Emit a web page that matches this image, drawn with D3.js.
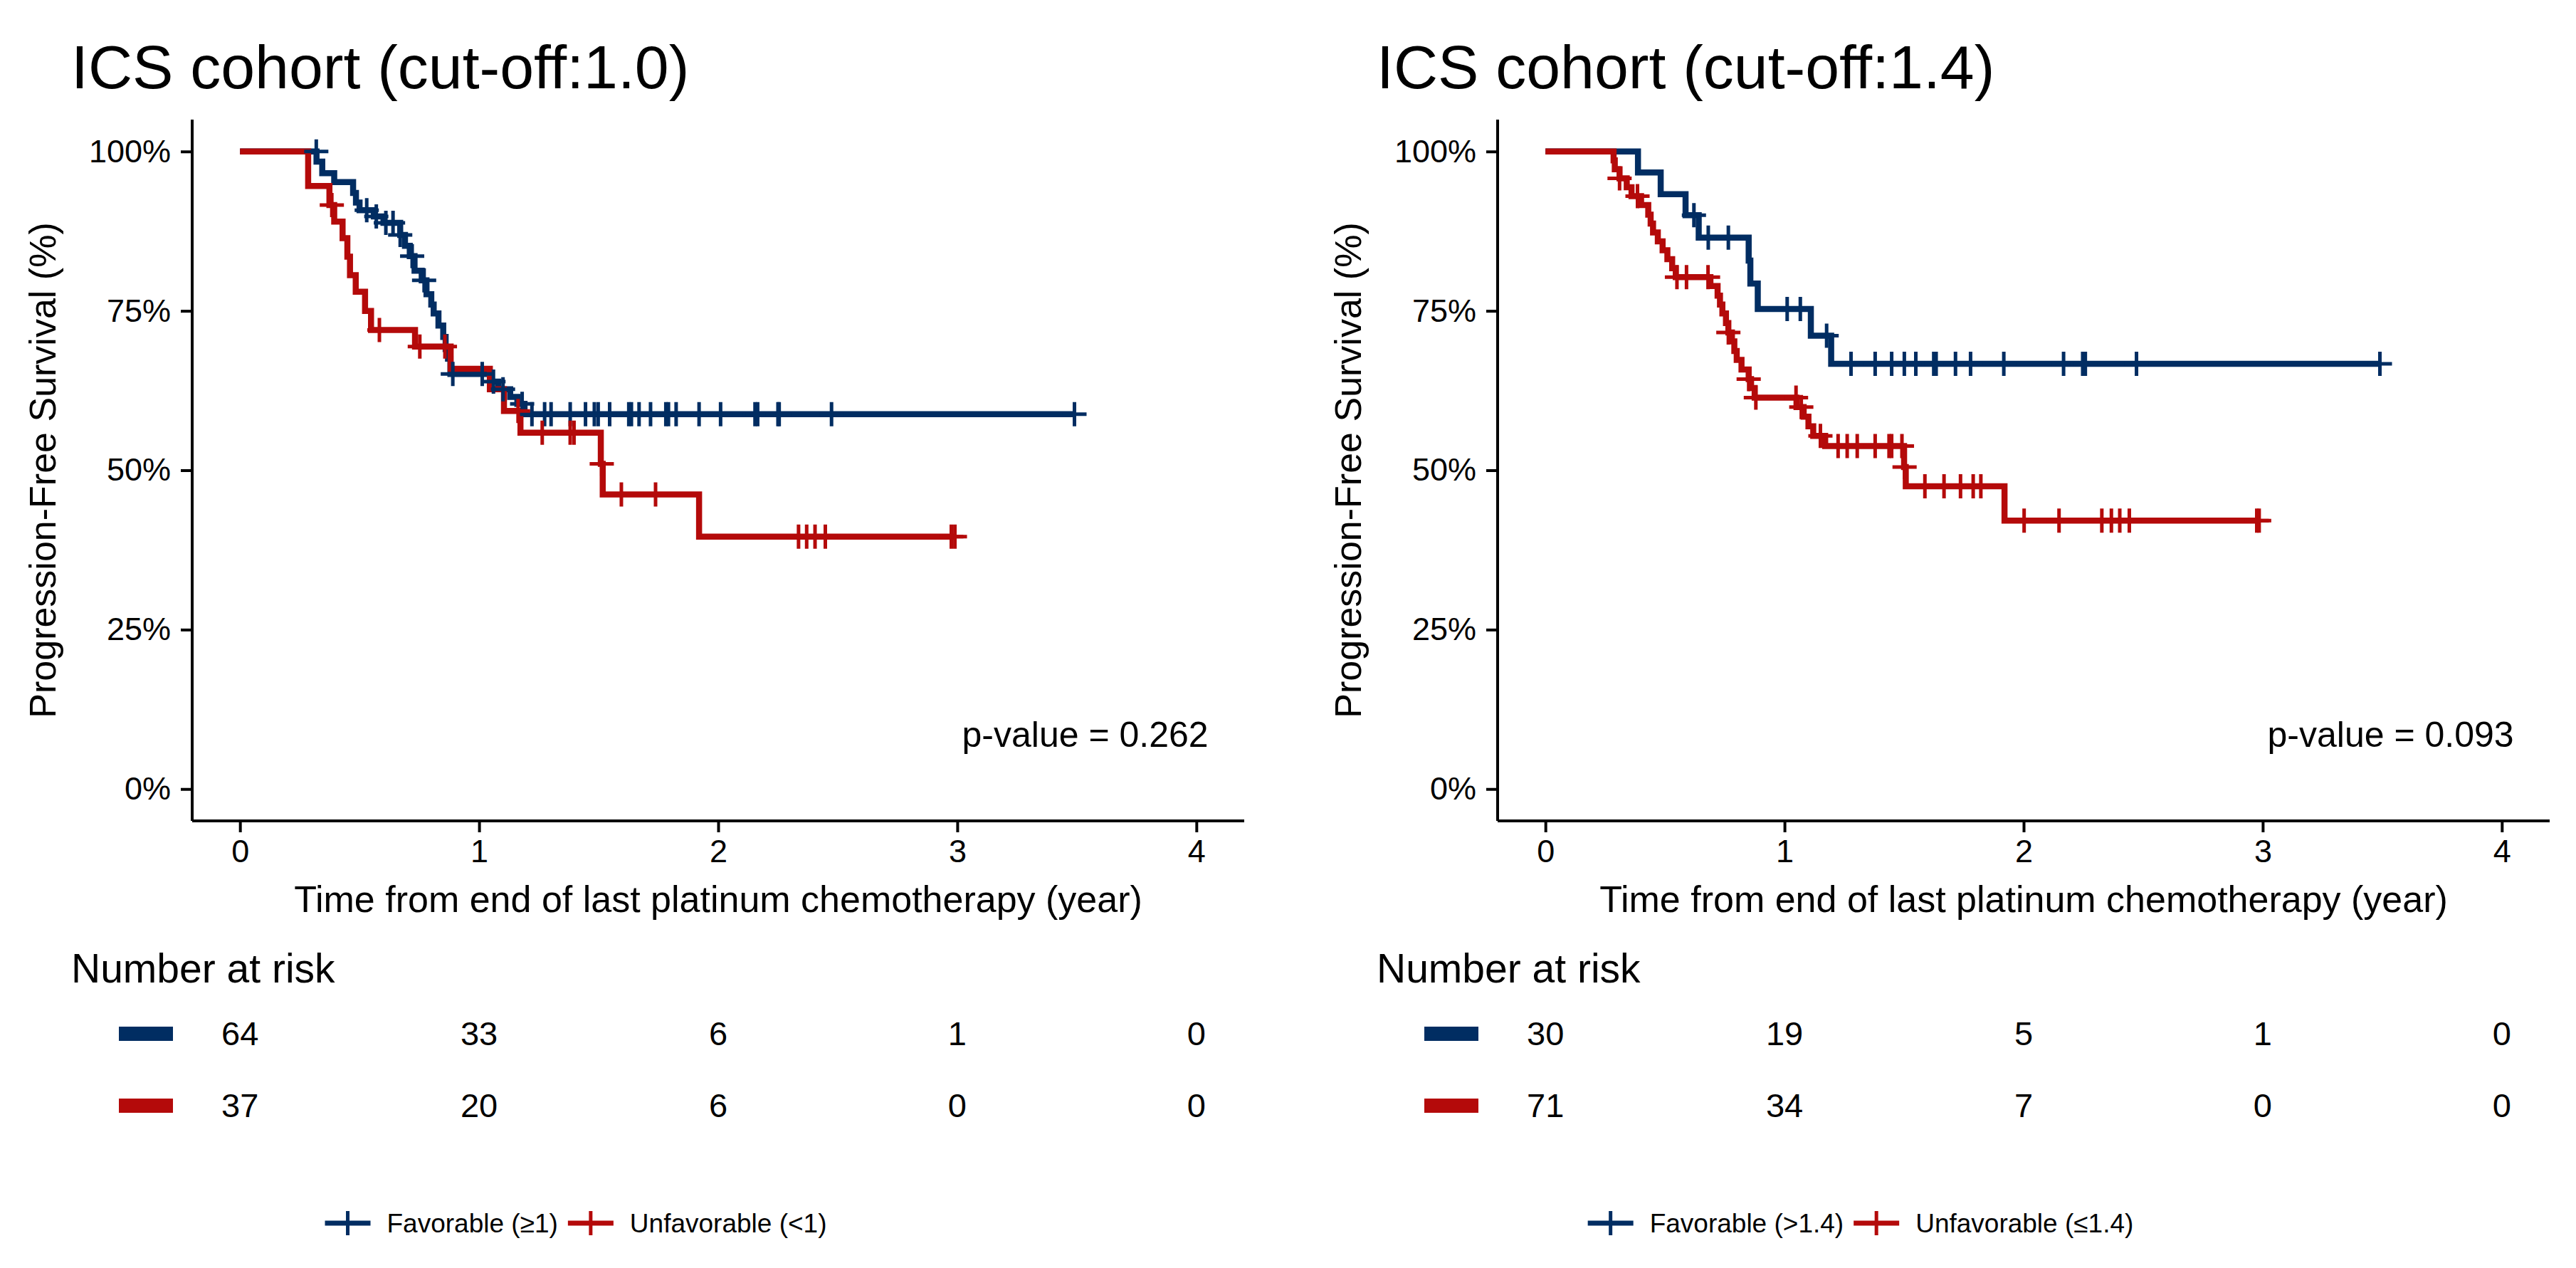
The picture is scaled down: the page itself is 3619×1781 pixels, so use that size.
<!DOCTYPE html>
<html><head><meta charset="utf-8">
<script src="https://cdn.jsdelivr.net/npm/d3@7/dist/d3.min.js"></script>
<style>
body{margin:0;background:#fff}
svg{display:block}
text{font-family:"Liberation Sans",Arial,sans-serif;fill:#000}
</style>
</head><body>
<svg id="chart" width="3619" height="1781"></svg>
<script>
// ---------------- data ----------------
const timeTicks = [0, 1, 2, 3, 4];
const survTicks = [0, 25, 50, 75, 100];
const survTickLabels = ["0%", "25%", "50%", "75%", "100%"];
const panelTitles = ["ICS cohort (cut-off:1.0)", "ICS cohort (cut-off:1.4)"];
const pValueLabels = ["p-value = 0.262", "p-value = 0.093"];
const favLabels = ["Favorable (\u22651)", "Favorable (>1.4)"];
const unfavLabels = ["Unfavorable (<1)", "Unfavorable (\u22641.4)"];
const xTitle = "Time from end of last platinum chemotherapy (year)";
const yTitle = "Progression-Free Survival (%)";
const riskTitle = "Number at risk";

// [time (year), survival %] step points
const leftFavSteps = [[0,100],[0.32,98.4],[0.344,96.6],[0.394,95.2],[0.473,93.5],[0.485,92.0],[0.50,90.8],[0.56,89.8],[0.60,88.8],[0.67,86.9],[0.69,85.2],[0.71,83.6],[0.73,81.3],[0.76,79.8],[0.78,77.6],[0.80,76.0],[0.81,74.6],[0.83,72.7],[0.85,70.9],[0.86,69.0],[0.87,67.5],[0.88,65.1],[1.05,63.9],[1.08,62.7],[1.13,61.5],[1.16,60.4],[1.19,58.8]];
const leftFavCensor = [0.319,0.53,0.57,0.61,0.64,0.67,0.72,0.77,0.89,1.013,1.06,1.10,1.18,1.221,1.274,1.301,1.381,1.445,1.482,1.498,1.546,1.626,1.637,1.669,1.717,1.781,1.792,1.824,1.920,2.010,2.154,2.165,2.250,2.255,2.474,3.49];
const leftFavEnd = 3.49;

const leftUnfavSteps = [[0,100],[0.285,94.6],[0.374,91.6],[0.394,89.0],[0.429,86.4],[0.449,83.5],[0.46,80.6],[0.484,78.0],[0.523,75.0],[0.548,72.0],[0.732,69.4],[0.881,65.9],[1.045,62.7],[1.104,59.3],[1.173,55.9],[1.509,51.0],[1.517,46.2],[1.920,39.6]];
const leftUnfavCensor = [0.384,0.583,0.752,0.857,1.163,1.264,1.381,1.397,1.513,1.595,1.738,2.336,2.370,2.405,2.448,2.975,2.99];
const leftUnfavEnd = 2.99;

const rightFavSteps = [[0,100],[0.387,96.7],[0.482,93.3],[0.586,90.0],[0.641,86.5],[0.85,82.9],[0.857,79.3],[0.888,75.3],[1.11,71.1],[1.195,66.7]];
const rightFavCensor = [0.621,0.681,0.765,1.011,1.066,1.176,1.278,1.379,1.448,1.501,1.549,1.624,1.634,1.715,1.778,1.917,2.167,2.247,2.258,2.472,3.49];
const rightFavEnd = 3.49;

const rightUnfavSteps = [[0,100],[0.285,98.6],[0.29,97.2],[0.31,95.8],[0.34,94.4],[0.36,93.0],[0.40,91.6],[0.43,90.1],[0.44,88.7],[0.45,87.3],[0.47,85.9],[0.49,84.5],[0.51,83.1],[0.53,81.7],[0.545,80.3],[0.69,78.9],[0.72,77.4],[0.73,76.0],[0.74,74.6],[0.755,73.1],[0.765,71.6],[0.78,70.2],[0.79,68.7],[0.80,67.3],[0.82,65.8],[0.85,64.3],[0.86,62.9],[0.875,61.4],[1.05,59.9],[1.08,58.4],[1.10,56.9],[1.12,55.4],[1.17,53.8],[1.50,50.5],[1.507,47.5],[1.92,42.1]];
const rightUnfavCensor = [0.31,0.385,0.55,0.59,0.68,0.765,0.85,0.88,1.048,1.07,1.15,1.224,1.262,1.304,1.379,1.437,1.448,1.491,1.502,1.587,1.667,1.736,1.789,1.821,2.002,2.148,2.327,2.367,2.402,2.442,2.975,2.985];
const rightUnfavEnd = 2.985;

const riskLeftFav = [64, 33, 6, 1, 0];
const riskLeftUnfav = [37, 20, 6, 0, 0];
const riskRightFav = [30, 19, 5, 1, 0];
const riskRightUnfav = [71, 34, 7, 0, 0];

// ---------------- styles / layout ----------------
const COL_FAV = "#012D62";
const COL_UNFAV = "#B40A0A";
const FONT = '"Liberation Sans",Arial,sans-serif';
const svg = d3.select("#chart");

const panels = [
  {dx: 0, legendCenter: 809, title: panelTitles[0], p: pValueLabels[0], labels: [favLabels[0], unfavLabels[0]],
   groups: [
     {steps: leftFavSteps, censor: leftFavCensor, end: leftFavEnd, color: COL_FAV, risk: riskLeftFav},
     {steps: leftUnfavSteps, censor: leftUnfavCensor, end: leftUnfavEnd, color: COL_UNFAV, risk: riskLeftUnfav}]},
  {dx: 1834, legendCenter: 780, title: panelTitles[1], p: pValueLabels[1], labels: [favLabels[1], unfavLabels[1]],
   groups: [
     {steps: rightFavSteps, censor: rightFavCensor, end: rightFavEnd, color: COL_FAV, risk: riskRightFav},
     {steps: rightUnfavSteps, censor: rightUnfavCensor, end: rightUnfavEnd, color: COL_UNFAV, risk: riskRightUnfav}]}
];

function survAt(steps, t) {
  let s = steps[0][1];
  for (const st of steps) { if (st[0] <= t) s = st[1]; else break; }
  return s;
}

const TICK_FS = 45, LAB_FS = 52, TITLE_FS = 86, PVAL_FS = 50, RISKT_FS = 57, RISKN_FS = 47, LEG_FS = 37;

panels.forEach(P => {
  const g = svg.append("g").attr("transform", `translate(${P.dx},0)`);
  const x = d3.scaleLinear().domain([-0.2, 4.2]).range([270, 1748]);
  const y = d3.scaleLinear().domain([-5, 105]).range([1153, 168]);

  // title
  g.append("text").attr("x", 100).attr("y", 124).attr("font-size", TITLE_FS).text(P.title);

  // axes
  const xAxis = g.append("g").attr("transform", "translate(0,1153)")
    .call(d3.axisBottom(x).tickValues(timeTicks).tickSize(16).tickPadding(10).tickFormat(d3.format("d")));
  const yAxis = g.append("g").attr("transform", "translate(270,0)")
    .call(d3.axisLeft(y).tickValues(survTicks).tickSize(16).tickPadding(14).tickFormat((d, i) => survTickLabels[i]));
  [xAxis, yAxis].forEach(a => {
    a.select(".domain").attr("stroke", "#000").attr("stroke-width", 4);
    a.selectAll(".tick line").attr("stroke", "#000").attr("stroke-width", 4);
    a.selectAll(".tick text").attr("font-size", TICK_FS).attr("fill", "#1a1a1a").attr("font-family", FONT);
  });
  xAxis.select(".domain").attr("d", `M${x(-0.2)},0H${x(4.2)}`);
  yAxis.select(".domain").attr("d", `M0,${y(-5)}V${y(105)}`);

  // axis titles
  g.append("text").attr("x", (x(-0.2) + x(4.2)) / 2).attr("y", 1281).attr("text-anchor", "middle")
    .attr("font-size", LAB_FS).text(xTitle);
  g.append("text").attr("transform", `translate(78,${(y(-5) + y(105)) / 2}) rotate(-90)`)
    .attr("text-anchor", "middle").attr("font-size", LAB_FS).text(yTitle);

  // curves
  const line = d3.line().x(d => x(d[0])).y(d => y(d[1])).curve(d3.curveStepAfter);
  P.groups.forEach(G => {
    const pts = G.steps.concat([[G.end, G.steps[G.steps.length - 1][1]]]);
    g.append("path").datum(pts).attr("d", line).attr("fill", "none")
      .attr("stroke", G.color).attr("stroke-width", 8.5).attr("stroke-linejoin", "miter");
  });
  P.groups.forEach(G => {
    const cg = g.append("g");
    G.censor.forEach(t => {
      const cx = x(t), cy = y(survAt(G.steps, t));
      cg.append("path").attr("d", `M${cx - 17},${cy}H${cx + 17}M${cx},${cy - 17}V${cy + 17}`)
        .attr("stroke", G.color).attr("stroke-width", 5).attr("fill", "none");
    });
  });

  // p-value
  g.append("text").attr("x", x(4.05)).attr("y", y(9.5) + 26).attr("text-anchor", "end")
    .attr("font-size", PVAL_FS).text(P.p);

  // risk table
  g.append("text").attr("x", 100).attr("y", 1380).attr("font-size", RISKT_FS).text(riskTitle);
  const rowY = [1452, 1553];
  P.groups.forEach((G, gi) => {
    g.append("rect").attr("x", 167).attr("y", rowY[gi] - 10).attr("width", 76).attr("height", 20).attr("fill", G.color);
    g.selectAll(null).data(G.risk).enter().append("text")
      .attr("x", (d, i) => x(timeTicks[i])).attr("y", rowY[gi] + 16)
      .attr("text-anchor", "middle").attr("font-size", RISKN_FS).text(d => d);
  });

  // legend (centred)
  const legY = 1718;
  const lg = g.append("g");
  const items = P.groups.map((G, gi) => {
    const it = lg.append("g");
    it.append("path").attr("d", `M0,0H64`).attr("stroke", G.color).attr("stroke-width", 7);
    it.append("path").attr("d", `M14,0H50M32,-17V17`).attr("stroke", G.color).attr("stroke-width", 5);
    const tx = it.append("text").attr("x", 87).attr("y", LEG_FS * 0.36).attr("font-size", LEG_FS).text(P.labels[gi]);
    return {it, w: 87 + tx.node().getComputedTextLength()};
  });
  const gap = 14;
  const total = items[0].w + gap + items[1].w;
  let cx = P.legendCenter - total / 2;
  items.forEach(o => { o.it.attr("transform", `translate(${cx},${legY})`); cx += o.w + gap; });
});
</script>
</body></html>
